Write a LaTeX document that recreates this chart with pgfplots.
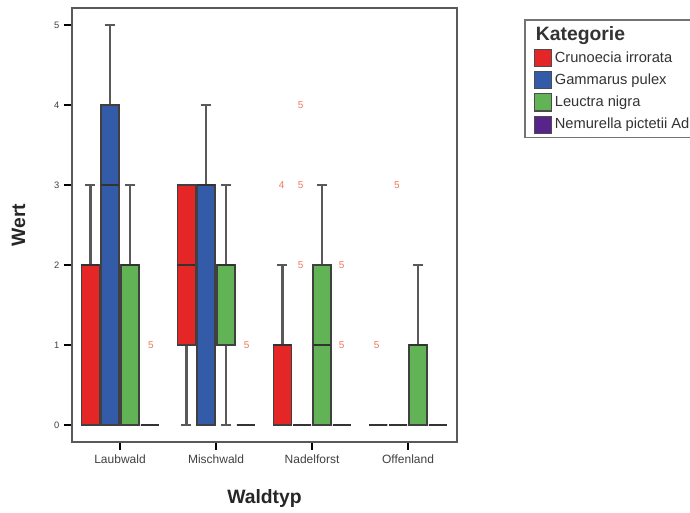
\documentclass[border=0pt]{standalone}
\usepackage{fontspec}
\setmainfont{Liberation Sans}
\usepackage{pgfplots}
\pgfplotsset{compat=1.18}
\usepgfplotslibrary{statistics}

\definecolor{cred}{RGB}{228,38,38}
\definecolor{cblue}{RGB}{52,91,168}
\definecolor{cgreen}{RGB}{98,178,86}
\definecolor{cpurple}{RGB}{88,36,140}
\definecolor{cout}{RGB}{240,120,90}

\pgfplotsset{
  legsq/.style={legend image code/.code={
    \draw[##1,draw=black!70,line width=0.8pt] (0pt,-6.4pt) rectangle (12.75pt,6.4pt);}},
}

% one prepared box: position, fill, lower whisker, Q1, median, Q3, upper whisker
\newcommand{\bx}[7]{%
  \addplot[forget plot, fill=#2, draw=black!75, line width=1pt,
    boxplot prepared={draw direction=y, draw position=#1, lower whisker=#3,
      lower quartile=#4, median=#5, upper quartile=#6, upper whisker=#7}]
    coordinates {};}

\begin{document}
\begin{tikzpicture}
\path[use as bounding box] (-54pt,-53.25pt) rectangle (463.5pt,331.5pt);
\begin{axis}[
  scale only axis,
  width=288.75pt, height=325.5pt,
  xmin=-0.5, xmax=3.51, ymin=-0.2125, ymax=5.2125,
  xtick={0,1,2,3},
  xticklabels={Laubwald,Mischwald,Nadelforst,Offenland},
  ytick={0,1,2,3,4,5},
  tick pos=left, tick align=outside,
  major tick length=6pt,
  tick style={black, line width=1.3pt},
  axis line style={draw=black!65, line width=1.4pt},
  /pgf/number format/assume math mode=true,
  xticklabel style={font=\fontsize{9}{10}\selectfont, text=black!75},
  yticklabel style={font=\fontsize{7}{8}\selectfont, text=black!75},
  xlabel={Waldtyp}, ylabel={Wert},
  every axis x label/.style={at={(axis description cs:0.5,-0.131)}, anchor=center,
    font=\bfseries\fontsize{14.5}{16}\selectfont, text=black!85},
  every axis y label/.style={at={(axis description cs:-0.139,0.5)}, rotate=90, anchor=center,
    font=\bfseries\fontsize{14.5}{16}\selectfont, text=black!85},
  boxplot/draw direction=y,
  boxplot/box extend=0.1875,
  boxplot/whisker extend=0.1,
  boxplot/every whisker/.style={draw=black!65, line width=2pt},
  boxplot/every median/.style={draw=black!80, line width=1.1pt},
  legend style={at={(1.174,0.9747)}, anchor=north west,
    draw=black!55, line width=1.2pt, fill=white,
    inner xsep=7pt, inner ysep=3pt, row sep=3pt,
    font=\fontsize{11}{12}\selectfont, text=black!80},
  legend cell align=left,
]
% Laubwald
\bx{-0.31}{cred}{0}{0}{2}{2}{3}
\bx{-0.104}{cblue}{0}{0}{3}{4}{5}
\bx{0.104}{cgreen}{0}{0}{2}{2}{3}
\bx{0.31}{cpurple}{0}{0}{0}{0}{0}
% Mischwald
\bx{0.69}{cred}{0}{1}{2}{3}{3}
\bx{0.896}{cblue}{0}{0}{3}{3}{4}
\bx{1.104}{cgreen}{0}{1}{2}{2}{3}
\bx{1.31}{cpurple}{0}{0}{0}{0}{0}
% Nadelforst
\bx{1.69}{cred}{0}{0}{1}{1}{2}
\bx{1.896}{cblue}{0}{0}{0}{0}{0}
\bx{2.104}{cgreen}{0}{0}{1}{2}{3}
\bx{2.31}{cpurple}{0}{0}{0}{0}{0}
% Offenland
\bx{2.69}{cred}{0}{0}{0}{0}{0}
\bx{2.896}{cblue}{0}{0}{0}{0}{0}
\bx{3.104}{cgreen}{0}{0}{1}{1}{2}
\bx{3.31}{cpurple}{0}{0}{0}{0}{0}

% outliers, labelled with their case numbers
\addplot[forget plot, only marks, color=cout, mark=text, text mark={5},
  text mark as node=true,
  text mark style={font=\fontsize{7.5}{8}\selectfont, inner sep=0pt}]
  coordinates {(0.323,1) (1.32,1) (1.882,4) (1.882,3) (1.882,2)
               (2.309,2) (2.309,1) (2.674,1) (2.883,3)};
\addplot[forget plot, only marks, color=cout, mark=text, text mark={4},
  text mark as node=true,
  text mark style={font=\fontsize{7.5}{8}\selectfont, inner sep=0pt}]
  coordinates {(1.684,3)};

\addlegendimage{empty legend}
\addlegendentry{\hspace*{-14.25pt}\textbf{\fontsize{14.5}{16}\selectfont Kategorie}}
\addlegendimage{legsq, fill=cred}
\addlegendentry{Crunoecia irrorata}
\addlegendimage{legsq, fill=cblue}
\addlegendentry{Gammarus pulex}
\addlegendimage{legsq, fill=cgreen}
\addlegendentry{Leuctra nigra}
\addlegendimage{legsq, fill=cpurple}
\addlegendentry{Nemurella pictetii Ad\hspace*{12pt}}
\end{axis}
\end{tikzpicture}
\end{document}
